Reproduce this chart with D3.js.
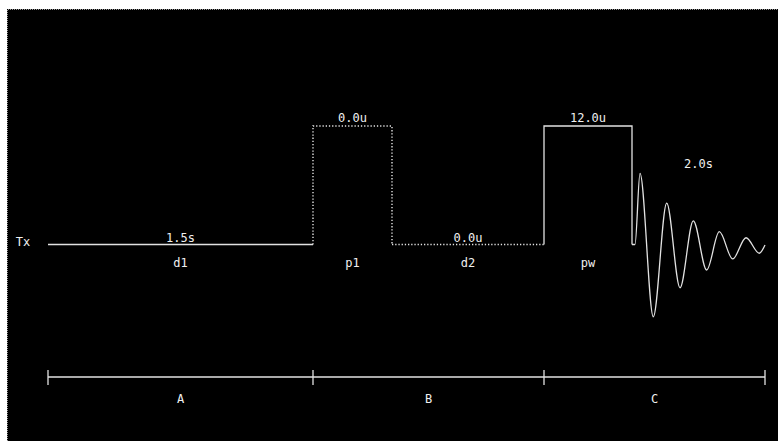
<!DOCTYPE html>
<html>
<head>
<meta charset="utf-8">
<script src="https://cdn.jsdelivr.net/npm/d3@7"></script>
<style>
html,body{margin:0;padding:0;background:#fff;}
svg{display:block;}
text{font-family:"DejaVu Sans Mono","Liberation Mono",monospace;font-size:12px;fill:#f0f0f0;}
</style>
</head>
<body>
<svg id="chart" width="778" height="441"></svg>
<script>
// ---- data ----
const channelName = "Tx";
const segNames   = ["d1", "p1", "d2", "pw"];
const segValues  = ["1.5s", "0.0u", "0.0u", "12.0u"];
const segLevels  = [0, 1, 0, 1];            // 0 = off (baseline), 1 = pulse on
const segUnits   = [265, 79, 152, 88];      // drawn length of each event
const acqValue   = "2.0s";
const acqUnits   = 133;
const groupNames = ["A", "B", "C"];
const groupEnds  = [1, 3, 5];               // index (exclusive) of last event in each group; 5 = incl. acquisition
// FID: offset along acquisition, amplitude relative to pulse height
const fidOffsets = [0, 3, 8, 21.3, 34.7, 48, 61.3, 74.7, 87.3, 100.7, 114, 127.3, 133];
const fidAmps    = [0, 0, 0.60, -0.61, 0.35, -0.365, 0.20, -0.215, 0.108, -0.122, 0.057, -0.074, -0.004];

// ---- layout ----
const W = 778, H = 441;
const svg = d3.select("#chart");
const lineColor = "#e2e2e2";

// background panel
svg.append("rect").attr("x", 7).attr("y", 9).attr("width", W - 7).attr("height", H - 9).attr("fill", "#000");
svg.append("path")
  .attr("d", `M7.5,${H} L7.5,9.5 L${W},9.5`)
  .attr("fill", "none").attr("stroke", "#9a9a9a").attr("stroke-width", 1).attr("stroke-dasharray", "1,1");

// cumulative starts
const starts = [0];
segUnits.forEach((u, i) => starts.push(starts[i] + u));
const acqStart = starts[starts.length - 1];
const total = acqStart + acqUnits;
const bounds = starts.concat([total]);

const x = d3.scaleLinear().domain([0, total]).range([48, 765]);
const y = d3.scaleLinear().domain([0, 1]).range([244.5, 126]);

const isZero = v => parseFloat(v) === 0;

// channel label
svg.append("text").attr("x", 23).attr("y", 246).attr("text-anchor", "middle").text(channelName);

// event segments
const g = svg.append("g").attr("fill", "none").attr("stroke", lineColor).attr("stroke-width", 1.3);
segNames.forEach((name, i) => {
  const x0 = x(starts[i]), x1 = x(starts[i + 1]);
  const lvl = segLevels[i];
  let d;
  if (lvl === 0) d = `M${x0},${y(0)} L${x1},${y(0)}`;
  else d = `M${x0},${y(0)} L${x0},${y(1)} L${x1},${y(1)} L${x1},${y(0)}`;
  const p = g.append("path").attr("d", d);
  if (isZero(segValues[i])) p.attr("stroke-dasharray", "1.3,1.9").attr("stroke-width", 1.4);
  const cx = (x0 + x1) / 2;
  svg.append("text").attr("x", cx).attr("y", lvl === 1 ? y(1) - 4 : y(0) - 3)
    .attr("text-anchor", "middle").text(segValues[i]);
  svg.append("text").attr("x", cx).attr("y", 267).attr("text-anchor", "middle").text(name);
});

// FID
const fidLine = d3.line()
  .x((d, i) => x(acqStart + fidOffsets[i]))
  .y(d => y(d))
  .curve(d3.curveMonotoneX);
g.append("path").attr("d", fidLine(fidAmps));
svg.append("text").attr("x", x(acqStart + acqUnits / 2)).attr("y", 168).attr("text-anchor", "middle").text(acqValue);

// bottom ruler
const rulerY = 377;
const groupBounds = [0].concat(groupEnds.map(e => bounds[e]));
g.append("line").attr("x1", x(0)).attr("x2", x(total)).attr("y1", rulerY).attr("y2", rulerY);
groupBounds.forEach(b => {
  g.append("line").attr("x1", x(b)).attr("x2", x(b)).attr("y1", rulerY - 7).attr("y2", rulerY + 8);
});
groupNames.forEach((n, i) => {
  svg.append("text").attr("x", (x(groupBounds[i]) + x(groupBounds[i + 1])) / 2).attr("y", 403)
    .attr("text-anchor", "middle").text(n);
});
</script>
</body>
</html>
